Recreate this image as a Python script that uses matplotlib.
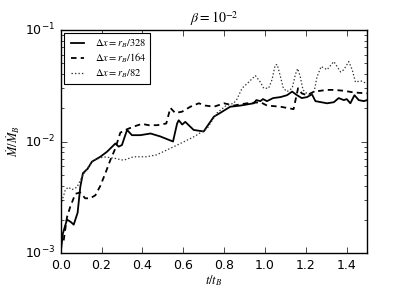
import matplotlib
matplotlib.use('Agg')
import matplotlib.pyplot as plt
import numpy as np

# accretion rate vs time, three resolutions
t_328 = [0.0, 0.011, 0.031, 0.05, 0.064, 0.083, 0.096, 0.109, 0.132, 0.153, 0.194, 0.227,
         0.268, 0.284, 0.30, 0.325, 0.349, 0.39, 0.44, 0.488, 0.55, 0.57, 0.578, 0.595,
         0.61, 0.651, 0.70, 0.715, 0.75, 0.78, 0.83, 0.88, 0.945, 0.958, 0.978, 0.99,
         1.01, 1.04, 1.076, 1.108, 1.133, 1.157, 1.18, 1.206, 1.23, 1.247, 1.304, 1.337,
         1.361, 1.386, 1.40, 1.418, 1.438, 1.459, 1.484, 1.5]
m_328 = [1.0e-3, 1.5e-3, 2.0e-3, 1.9e-3, 1.8e-3, 2.3e-3, 3.9e-3, 5.2e-3, 5.7e-3, 6.6e-3,
         7.3e-3, 8.1e-3, 9.6e-3, 9.0e-3, 9.3e-3, 1.27e-2, 1.14e-2, 1.14e-2, 1.18e-2, 1.11e-2,
         1.0e-2, 1.45e-2, 1.55e-2, 1.42e-2, 1.5e-2, 1.27e-2, 1.23e-2, 1.35e-2, 1.67e-2,
         1.8e-2, 2.05e-2, 2.1e-2, 2.2e-2, 2.35e-2, 2.3e-2, 2.4e-2, 2.3e-2, 2.45e-2, 2.5e-2,
         2.6e-2, 2.8e-2, 2.6e-2, 2.45e-2, 2.5e-2, 2.65e-2, 2.3e-2, 2.2e-2, 2.25e-2, 2.45e-2,
         2.35e-2, 2.4e-2, 2.2e-2, 2.6e-2, 2.35e-2, 2.3e-2, 2.35e-2]

t_164 = [0.015, 0.031, 0.047, 0.072, 0.096, 0.12, 0.145, 0.17, 0.194, 0.219, 0.243, 0.268,
         0.292, 0.317, 0.357, 0.398, 0.431, 0.472, 0.517, 0.537, 0.561, 0.594, 0.635, 0.676,
         0.708, 0.75, 0.80, 0.847, 0.912, 0.978, 1.01, 1.076, 1.14, 1.162, 1.18, 1.206,
         1.24, 1.304, 1.337, 1.386, 1.435, 1.5]
m_164 = [1.3e-3, 2.1e-3, 2.6e-3, 3.4e-3, 3.5e-3, 3.1e-3, 3.1e-3, 3.3e-3, 4.0e-3, 5.2e-3,
         6.8e-3, 8.7e-3, 1.2e-2, 1.27e-2, 1.36e-2, 1.44e-2, 1.4e-2, 1.4e-2, 1.45e-2, 2.0e-2,
         1.8e-2, 1.85e-2, 2.05e-2, 2.2e-2, 2.1e-2, 2.05e-2, 2.2e-2, 2.1e-2, 2.2e-2, 2.25e-2,
         2.1e-2, 2.05e-2, 1.95e-2, 3.0e-2, 2.7e-2, 2.6e-2, 2.8e-2, 2.9e-2, 2.9e-2, 2.85e-2,
         2.75e-2, 2.7e-2]

t_82 = [0.006, 0.023, 0.039, 0.055, 0.08, 0.104, 0.129, 0.162, 0.21, 0.26, 0.308, 0.357,
        0.42, 0.47, 0.52, 0.586, 0.651, 0.716, 0.765, 0.81, 0.847, 0.863, 0.888, 0.92,
        0.953, 0.978, 0.994, 1.018, 1.035, 1.05, 1.06, 1.076, 1.09, 1.108, 1.133, 1.149,
        1.16, 1.173, 1.186, 1.214, 1.239, 1.255, 1.275, 1.304, 1.337, 1.353, 1.37, 1.386,
        1.41, 1.427, 1.443, 1.468, 1.5]
m_82 = [2.9e-3, 3.7e-3, 3.9e-3, 3.7e-3, 3.9e-3, 4.8e-3, 5.7e-3, 6.8e-3, 7.3e-3, 7.1e-3,
        6.8e-3, 7.3e-3, 7.3e-3, 7.6e-3, 8.4e-3, 9.6e-3, 1.1e-2, 1.3e-2, 1.8e-2, 2.1e-2,
        2.2e-2, 2.4e-2, 3.0e-2, 3.4e-2, 3.9e-2, 3.4e-2, 3.0e-2, 3.0e-2, 3.6e-2, 4.85e-2,
        4.9e-2, 3.8e-2, 3.0e-2, 2.8e-2, 3.0e-2, 4.0e-2, 4.5e-2, 3.8e-2, 2.9e-2, 2.6e-2,
        2.7e-2, 3.8e-2, 4.7e-2, 4.4e-2, 5.2e-2, 4.7e-2, 4.2e-2, 4.4e-2, 5.2e-2, 4.4e-2,
        3.4e-2, 3.5e-2, 3.3e-2]

labels = [r'$\Delta x=r_B/328$', r'$\Delta x=r_B/164$', r'$\Delta x=r_B/82$']

plt.style.use('classic')
plt.rcParams['mathtext.fontset'] = 'stix'
plt.rcParams['font.family'] = ['DejaVu Sans']

fig = plt.figure(figsize=(4.07, 3.05), dpi=100, facecolor='w')
ax = fig.add_axes([0.149, 0.170, 0.753, 0.732])

ax.plot(t_328, m_328, color='black', ls='-', lw=1.3, label=labels[0])
ax.plot(t_164, m_164, color='black', ls='--', dashes=(4, 3), lw=1.3, label=labels[1])
ax.plot(t_82, m_82, color='#333333', ls=':', dashes=(1, 1.5), lw=0.9, label=labels[2])

ax.set_yscale('log')
ax.set_xlim(0, 1.5)
ax.set_ylim(1e-3, 1e-1)
ax.set_xticks([0.0, 0.2, 0.4, 0.6, 0.8, 1.0, 1.2, 1.4])
ax.tick_params(labelsize=9)
ax.set_xlabel(r'$t/t_B$', fontsize=9, labelpad=1)
ax.set_ylabel(r'$\dot{M}/\dot{M}_B$', fontsize=9, labelpad=2)
ax.set_title(r'$\beta=10^{-2}$', fontsize=10)

leg = ax.legend(loc='upper left', fontsize=7.5, handlelength=1.8, borderpad=0.4,
                labelspacing=0.2, borderaxespad=0.3, handletextpad=0.8)
leg.get_frame().set_linewidth(0.8)

plt.savefig('out.png', dpi=100, facecolor='w')
plt.close()
